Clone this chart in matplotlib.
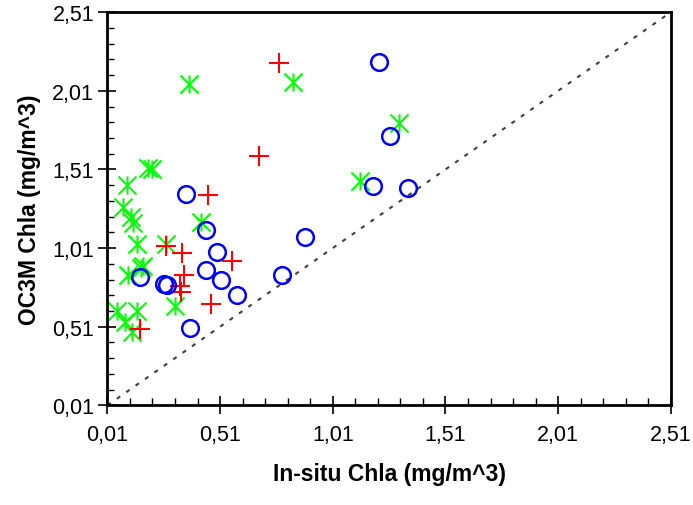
import numpy as np
import matplotlib
matplotlib.use("Agg")
import matplotlib.pyplot as plt
from matplotlib.path import Path
from matplotlib.ticker import FixedLocator, FuncFormatter

# values (in-situ vs OC3M Chla, mg/m^3)
blue_x = [1.213, 1.266, 1.189, 1.344, 0.886, 0.783, 0.358, 0.447, 0.498, 0.447,
          0.516, 0.583, 0.263, 0.274, 0.154, 0.376]
blue_y = [2.190, 1.720, 1.406, 1.392, 1.079, 0.839, 1.352, 1.125, 0.985, 0.871,
          0.804, 0.712, 0.780, 0.777, 0.824, 0.500]

red_x = [0.771, 0.683, 0.457, 0.268, 0.339, 0.565, 0.351, 0.332, 0.336, 0.469, 0.154]
red_y = [2.184, 1.597, 1.347, 1.021, 0.979, 0.928, 0.839, 0.766, 0.729, 0.655, 0.496]

green_x = [0.190, 0.210, 0.095, 0.080, 0.114, 0.124, 0.140, 0.268, 0.425, 0.169,
           0.160, 0.102, 0.309, 0.051, 0.140, 0.088, 0.117, 0.372, 0.832, 1.305, 1.130]
green_y = [1.520, 1.510, 1.411, 1.269, 1.206, 1.169, 1.036, 1.036, 1.174, 0.894,
           0.880, 0.839, 0.644, 0.612, 0.612, 0.539, 0.475, 2.052, 2.067, 1.803, 1.438]

one_to_one = [0.01, 2.51]
major_ticks = [0.01, 0.51, 1.01, 1.51, 2.01, 2.51]

plt.rcParams['font.family'] = ['Liberation Sans', 'DejaVu Sans']

# excel style asterisk: an X with a vertical bar
star = Path([(0, -1), (0, 1), (-1, -1), (1, 1), (-1, 1), (1, -1)],
            [Path.MOVETO, Path.LINETO] * 3)

fig = plt.figure(figsize=(6.93, 5.06), dpi=100)
ax = fig.add_axes([0.155, 0.197, 0.813, 0.777])

ax.plot(one_to_one, one_to_one, color='#404040', lw=1.5, ls=(0, (2, 3.5)))
ax.plot(green_x, green_y, ls='none', marker=star, ms=13, mew=1.5,
        mec='#00ff00', mfc='none')
ax.plot(red_x, red_y, ls='none', marker='+', ms=14, mew=1.5, mec='#ff0000')
ax.plot(blue_x, blue_y, ls='none', marker='o', ms=12, mew=1.8,
        mec='#0000ff', mfc='none')

ax.set_xlim(0.01, 2.51)
ax.set_ylim(0.01, 2.51)
for a in (ax.xaxis, ax.yaxis):
    a.set_major_locator(FixedLocator(major_ticks))
    a.set_minor_locator(FixedLocator(np.arange(0.01, 2.52, 0.1)))
    a.set_major_formatter(FuncFormatter(lambda v, p: f"{v:.2f}".replace('.', ',')))

ax.tick_params(which='major', direction='inout', length=13, width=1.2,
               labelsize=15.5, pad=3)
ax.tick_params(which='minor', direction='in', length=5, width=1)
ax.tick_params(axis='x', which='major', pad=7)

for s in ax.spines.values():
    s.set_linewidth(2)

ax.set_xlabel('In-situ Chla (mg/m^3)', fontsize=16.5, fontweight='bold', labelpad=12)
ax.set_ylabel('OC3M Chla (mg/m^3)', fontsize=16.5, fontweight='bold', labelpad=8)

fig.savefig('out.png', dpi=100)
